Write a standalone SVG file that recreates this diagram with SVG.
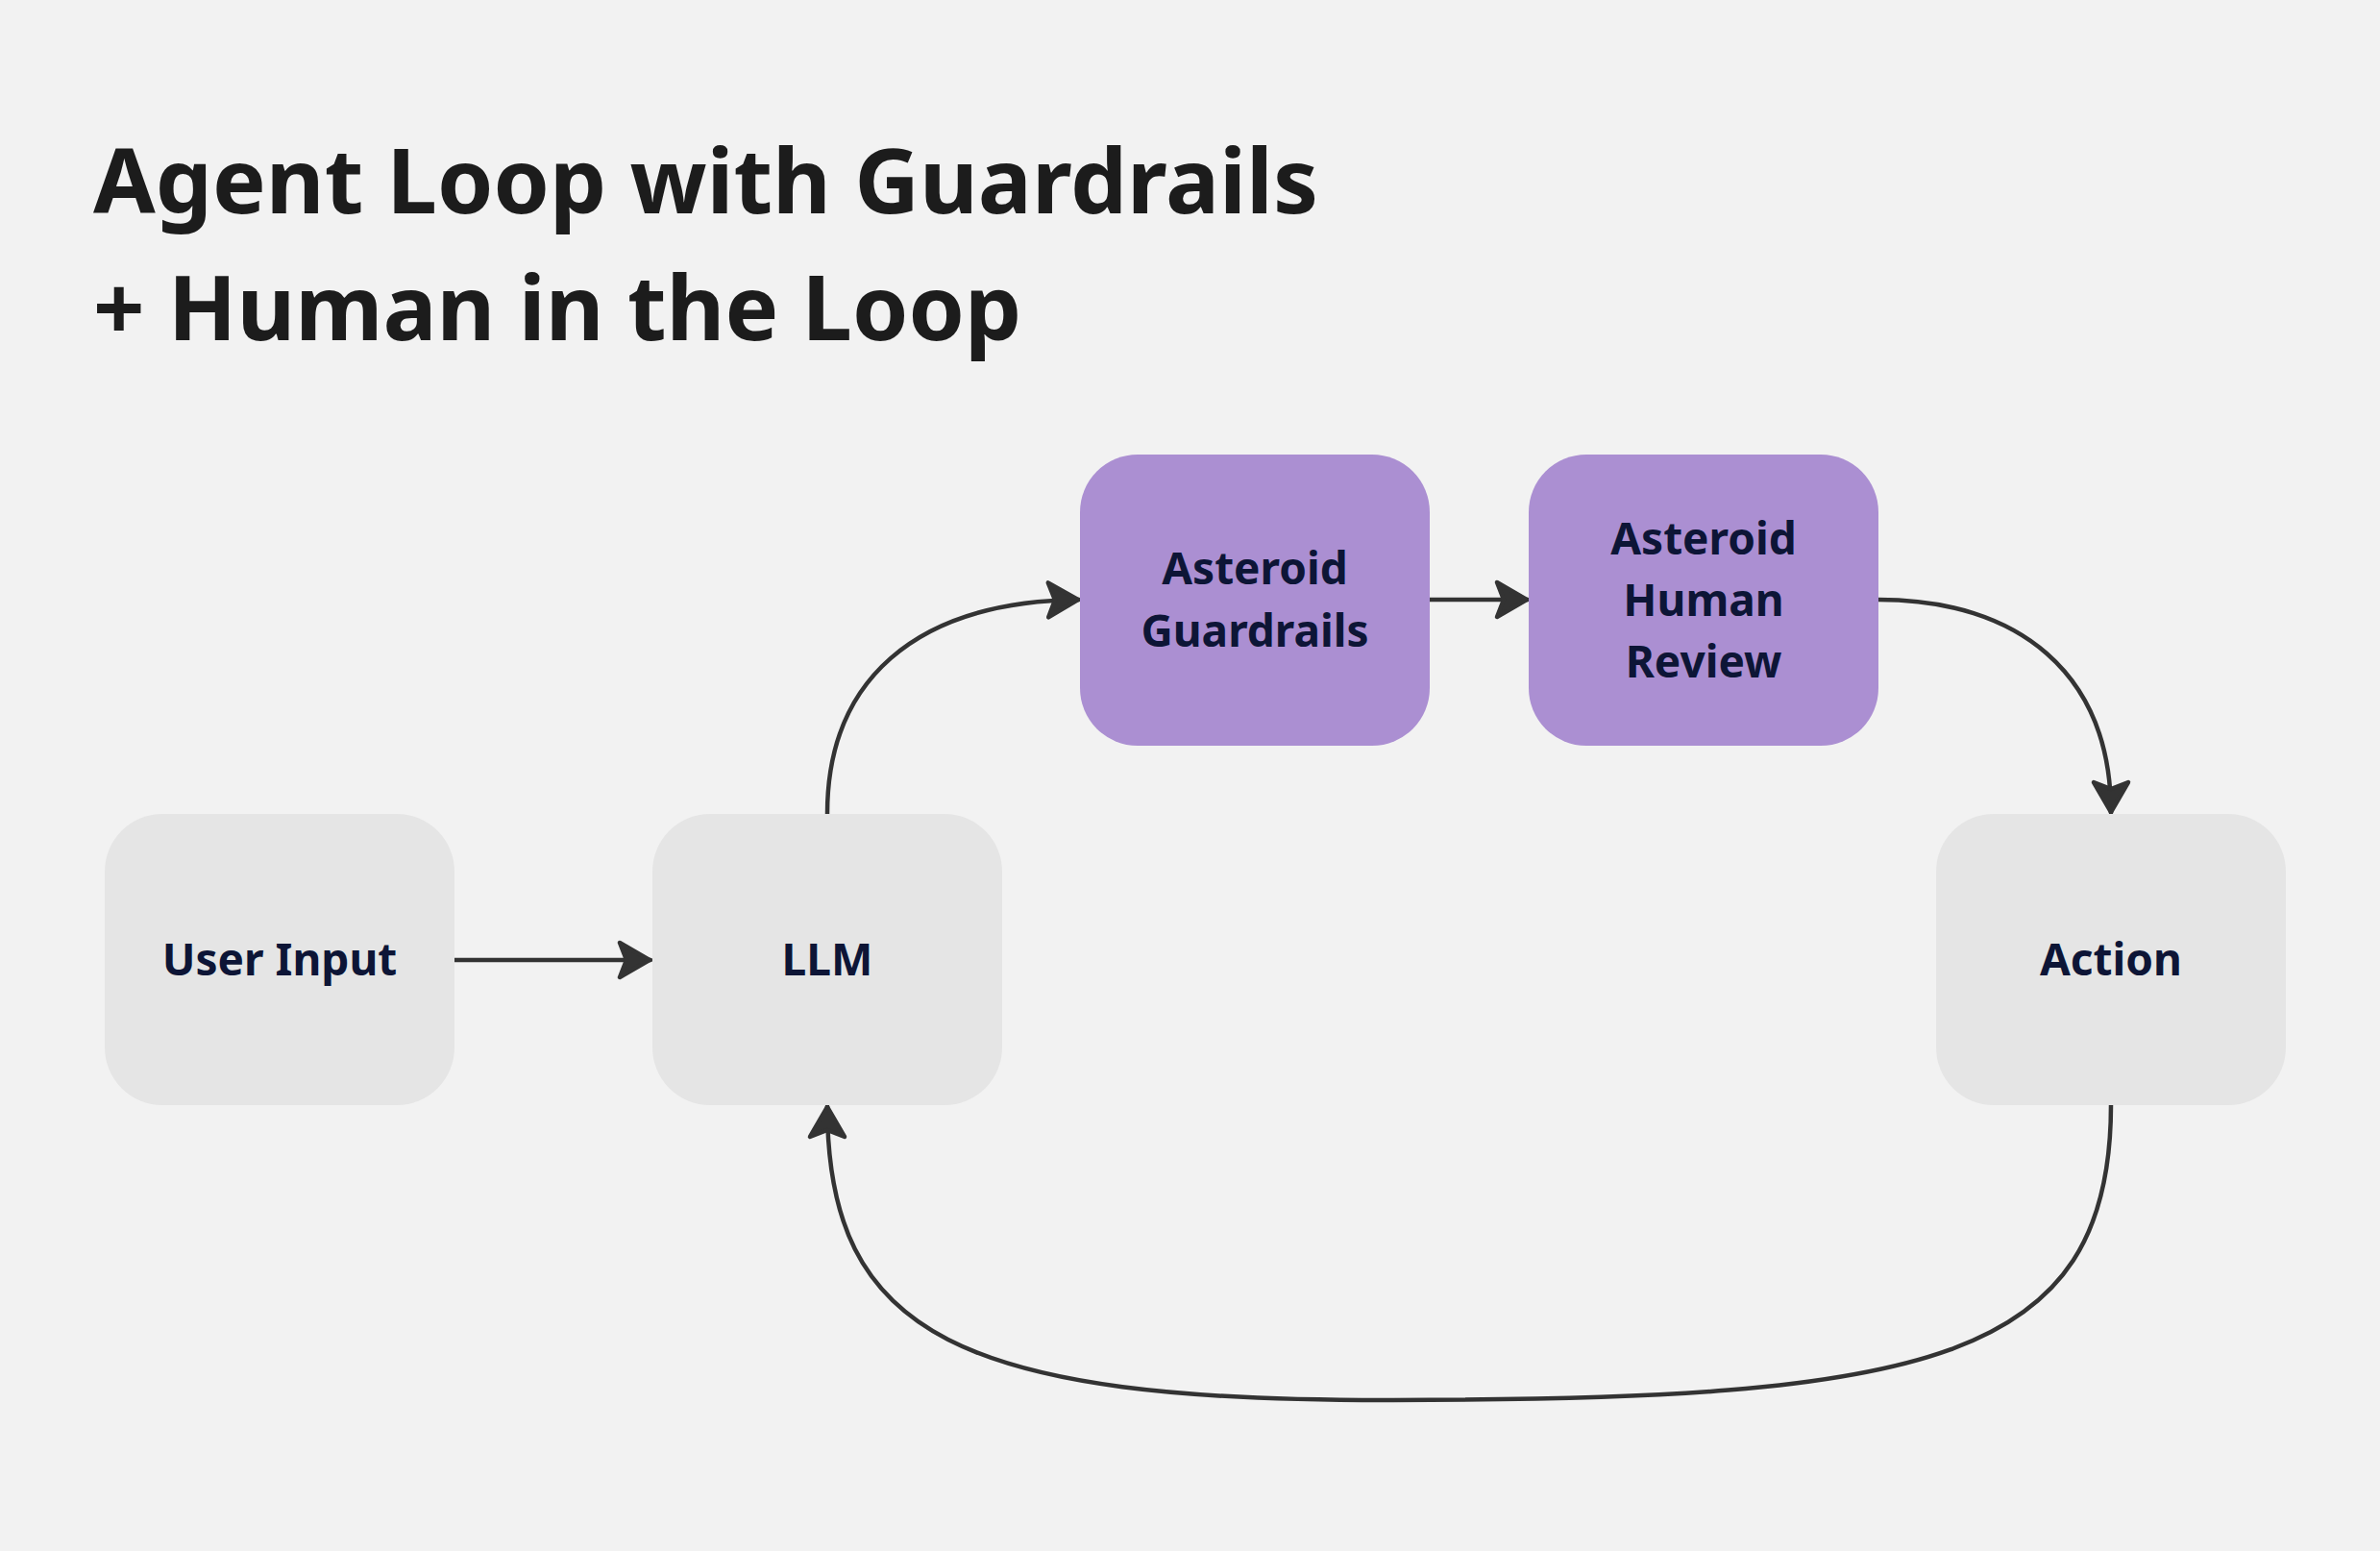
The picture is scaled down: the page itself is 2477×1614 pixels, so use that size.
<svg xmlns="http://www.w3.org/2000/svg" width="2477" height="1614" viewBox="0 0 2477 1614">
<style>
.title{font-family:"Noto Sans","Open Sans",sans-serif;font-weight:700;font-size:93.6px;fill:#1c1c1c}
.lbl{font-family:"Noto Sans","Open Sans",sans-serif;font-weight:700;font-size:46px;fill:#0d1536;text-anchor:middle}
.gray{fill:#e5e5e5}
.purple{fill:#ab8fd2}
.edge{fill:none;stroke:#333333;stroke-width:4.5;stroke-linecap:round}
</style>
<defs>
<marker id="arr" markerUnits="userSpaceOnUse" markerWidth="44" markerHeight="48" viewBox="-38 -24 40 48" refX="0" refY="0" orient="auto">
<path d="M-1,0 L-32,-18 L-25,0 L-32,18 Z" fill="#333333" stroke="#333333" stroke-width="4.5" stroke-linejoin="round"/>
</marker>
</defs>
<rect width="2477" height="1614" fill="#f2f2f2"/>
<g id="title">
<text class="title" x="97" y="222">Agent Loop with Guardrails</text>
<text class="title" x="97" y="354">+ Human in the Loop</text>
</g>
<g id="connectors">
<path class="edge" d="M473,999 L677,999" marker-end="url(#arr)"/>
<path class="edge" d="M861,847 C861,710 950,626 1123,624" marker-end="url(#arr)"/>
<path class="edge" d="M1488,624 L1590,624" marker-end="url(#arr)"/>
<path class="edge" d="M1955,624 C2100,624 2197,700 2197,846" marker-end="url(#arr)"/>
<path class="edge" d="M2197,1150 C2197,1420 2000,1456 1450,1457 C1000,1458 861,1390 861,1151" marker-end="url(#arr)"/>
</g>
<g id="node-user-input">
<rect class="gray" x="109" y="847" width="364" height="303" rx="60"/>
<text class="lbl" x="291" y="1015">User Input</text>
</g>
<g id="node-llm">
<rect class="gray" x="679" y="847" width="364" height="303" rx="60"/>
<text class="lbl" x="861" y="1015">LLM</text>
</g>
<g id="node-guardrails">
<rect class="purple" x="1124" y="473" width="364" height="303" rx="60"/>
<text class="lbl" x="1306" y="608">Asteroid</text>
<text class="lbl" x="1306" y="673">Guardrails</text>
</g>
<g id="node-human-review">
<rect class="purple" x="1591" y="473" width="364" height="303" rx="60"/>
<text class="lbl" x="1773" y="577">Asteroid</text>
<text class="lbl" x="1773" y="641">Human</text>
<text class="lbl" x="1773" y="705">Review</text>
</g>
<g id="node-action">
<rect class="gray" x="2015" y="847" width="364" height="303" rx="60"/>
<text class="lbl" x="2197" y="1015">Action</text>
</g>
</svg>
